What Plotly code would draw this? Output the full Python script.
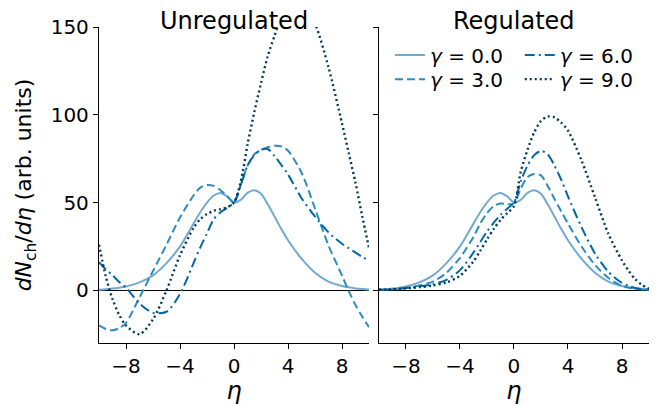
import plotly.graph_objects as go

# pseudorapidity grid shared by every curve
eta = [-10, -9.5, -9, -8.5, -8, -7, -6, -5, -4, -3, -2.5, -2, -1.5, -1, -0.5, 0,
       0.5, 1, 1.5, 2, 2.5, 3, 3.5, 4, 5, 6, 7, 8, 8.5, 9, 9.5, 10]

# gamma = 0 is the same in both panels
g0 = [0.4, 0.6, 1.0, 1.5, 2.2, 4.5, 8.5, 15.5, 25, 38, 44.5, 50, 54, 55.5, 53.5, 50,
      51.5, 55.5, 57, 55, 49, 42, 35, 28.5, 18, 10, 5, 2.5, 1.7, 1.1, 0.7, 0.4]

# unregulated
unreg_g3 = [-20, -22, -22.8, -21.5, -18.5, -4, 11, 26, 41.5, 54, 58.5, 60, 59.5, 57, 53.5, 50,
            60, 71, 77.5, 80, 81.5, 82.3, 82, 79.5, 67, 46.5, 25.5, 8.4, -0.5, -8.5, -15, -21]
unreg_g6 = [16, 12, 8.5, 4.8, 1.5, -7.5, -12.8, -12.2, -2, 15.5, 24.5, 32.5, 40.5, 44.5, 47, 50,
            60, 71, 77, 80, 80.5, 76.5, 71.5, 66, 52.5, 42, 33, 26.5, 24, 21.5, 19, 17]
unreg_g9 = [26, 8, -5, -14, -20, -25, -16.5, 0, 20, 35.5, 40.5, 43.5, 45.3, 46.3, 47.3, 50,
            62, 83, 101.5, 118, 133.5, 145, 156, 163, 166, 152, 127, 95, 78, 61, 42, 24]

# regulated
reg_g3 = [0.3, 0.4, 0.6, 0.9, 1.5, 2.8, 5, 10, 18.5, 30.5, 38, 44, 48, 49.5, 49, 49.5,
          58, 64.5, 66.3, 65.5, 59.5, 52, 45, 38, 25, 14.5, 7, 2.5, 1.5, 0.9, 0.5, 0.3]
reg_g6 = [0.3, 0.4, 0.6, 0.9, 1.3, 2.3, 3.5, 6, 11.5, 21.5, 27.5, 33.5, 38.5, 43, 46.5, 50,
          62, 71, 77, 79.4, 77.5, 71, 63, 53.5, 36, 21, 10.5, 4.2, 2.5, 1.3, 0.6, 0.3]
reg_g9 = [0.3, 0.4, 0.6, 0.8, 1.1, 1.8, 2.8, 4.5, 8.3, 16.5, 22.5, 29, 35, 40, 44, 48,
          67.5, 80, 90, 96.5, 99, 98.5, 95.5, 91, 74, 53, 32, 17, 11, 6.2, 3, 0.8]

labels = ["<i>γ</i> = 0.0", "<i>γ</i> = 3.0", "<i>γ</i> = 6.0", "<i>γ</i> = 9.0"]
colors = ["#74a9cf", "#2b8cbe", "#0567a5", "#023858"]
dashes = ["solid", "8px,4px", "10px,4px,2px,4px", "2px,3px"]
widths = [2, 2, 2, 2.4]

xticks = [-8, -4, 0, 4, 8]
xticktext = ["−8", "−4", "0", "4", "8"]
yticks = [0, 50, 100, 150]

FONT = "DejaVu Sans"
TICKFONT = dict(family=FONT, size=20, color="black")

# the page body has an 8px margin, so the figure is 8px smaller than the window
fig = go.Figure()

# one legend per entry, laid out as two columns inside the right panel
legend_names = ["legend", "legend2", "legend3", "legend4"]
legend_pos = [(0.529, 0.911), (0.529, 0.835), (0.765, 0.911), (0.765, 0.835)]

panels = [("x", "y", [g0, unreg_g3, unreg_g6, unreg_g9], False),
          ("x2", "y2", [g0, reg_g3, reg_g6, reg_g9], True)]
for xa, ya, series, show in panels:
    for i, vals in enumerate(series):
        fig.add_trace(go.Scatter(
            x=eta, y=vals, xaxis=xa, yaxis=ya,
            mode="lines", line=dict(color=colors[i], dash=dashes[i], width=widths[i],
                                    shape="spline", smoothing=0.8),
            name=labels[i], showlegend=show, legend=legend_names[i]))


def axis_style(**kw):
    base = dict(showline=True, linecolor="black", linewidth=1.3, ticks="outside",
                ticklen=5, tickwidth=1.3, tickcolor="black", showgrid=False,
                tickfont=TICKFONT, automargin=False)
    base.update(kw)
    return base


def legend_style(x, y):
    return dict(x=x, y=y, xanchor="left", yanchor="middle", bgcolor="rgba(0,0,0,0)",
                borderwidth=0, font=dict(family=FONT, size=20, color="black"))


fig.update_layout(
    width=651, height=397,
    margin=dict(l=91, r=10, t=19, b=62, autoexpand=False),
    paper_bgcolor="white", plot_bgcolor="white",
    font=dict(family=FONT, size=20, color="black"),
    xaxis=axis_style(domain=[0, 0.491], range=[-10, 10], tickvals=xticks, ticktext=xticktext,
                     title=dict(text="<i>η</i>", font=dict(size=24), standoff=6),
                     zeroline=False),
    xaxis2=axis_style(domain=[0.509, 1], range=[-10, 10], tickvals=xticks, ticktext=xticktext,
                      title=dict(text="<i>η</i>", font=dict(size=24), standoff=6),
                      zeroline=False, anchor="y2"),
    yaxis=axis_style(range=[-30, 150], tickvals=yticks, zeroline=True, zerolinecolor="black",
                     zerolinewidth=1,
                     title=dict(text="<i>dN</i><sub>ch</sub>/<i>dη</i> (arb. units)",
                                font=dict(size=22), standoff=12)),
    yaxis2=axis_style(range=[-30, 150], tickvals=yticks, zeroline=True, zerolinecolor="black",
                      zerolinewidth=1, showticklabels=False, anchor="x2"),
    legend=legend_style(*legend_pos[0]),
    legend2=legend_style(*legend_pos[1]),
    legend3=legend_style(*legend_pos[2]),
    legend4=legend_style(*legend_pos[3]),
    showlegend=True,
)

fig.add_annotation(text="Unregulated", xref="paper", yref="paper", x=0.2455, y=0.969,
                   xanchor="center", yanchor="bottom", showarrow=False,
                   font=dict(family=FONT, size=24, color="black"))
fig.add_annotation(text="Regulated", xref="paper", yref="paper", x=0.7545, y=0.969,
                   xanchor="center", yanchor="bottom", showarrow=False,
                   font=dict(family=FONT, size=24, color="black"))

fig.write_html("out.html")
